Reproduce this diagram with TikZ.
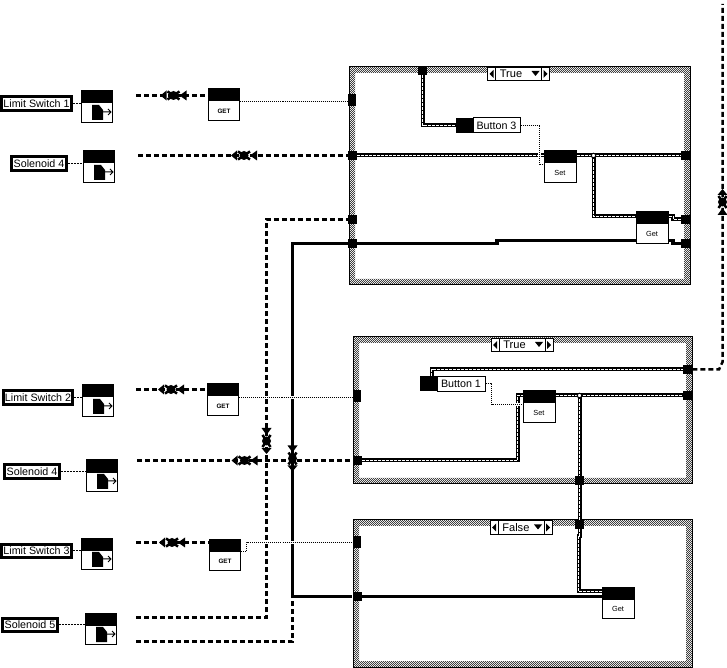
\documentclass[tikz,border=0pt]{standalone}
\usepackage{fontspec}
\setsansfont{Liberation Sans}
\usetikzlibrary{patterns}
\definecolor{Ink}{HTML}{000000}
\pgfdeclarepatternformonly{checkpx}{\pgfpoint{0cm}{0cm}}{\pgfpoint{0.04cm}{0.04cm}}{\pgfpoint{0.04cm}{0.04cm}}{
  \pgfpathrectangle{\pgfpointorigin}{\pgfpoint{0.02cm}{0.02cm}}
  \pgfpathrectangle{\pgfpoint{0.02cm}{0.02cm}}{\pgfpoint{0.02cm}{0.02cm}}
  \pgfusepath{fill}
}
\tikzset{
  caseedge/.style={even odd rule,pattern=checkpx,pattern color=Ink!75},
  caseline/.style={draw=Ink,line width=0.02cm},
  vihead/.style={rectangle,fill=Ink,draw=Ink,line width=0.02cm,minimum width=0.64cm,minimum height=0.24cm,inner sep=0pt},
  vibody/.style={rectangle,fill=white,draw=Ink,line width=0.02cm,minimum width=0.64cm,minimum height=0.40cm,inner sep=0pt},
  viget/.style={vibody,font=\sffamily\bfseries\fontsize{3.6pt}{4pt}\selectfont},
  viset/.style={vibody,font=\sffamily\fontsize{4.2pt}{5pt}\selectfont},
  namebox/.style={rectangle,fill=white,draw=Ink,line width=0.06cm,minimum height=0.28cm,inner sep=0pt,font=\sffamily\fontsize{6.1pt}{7pt}\selectfont},
  buttonbox/.style={rectangle,fill=white,draw=Ink,line width=0.02cm,minimum height=0.30cm,inner sep=0pt,font=\sffamily\fontsize{6.1pt}{7pt}\selectfont},
  buttoncap/.style={rectangle,fill=Ink,minimum width=0.34cm,minimum height=0.30cm,inner sep=0pt},
  tunnel/.style={rectangle,fill=Ink,minimum width=0.18cm,minimum height=0.18cm,inner sep=0pt},
  tunneltall/.style={rectangle,fill=Ink,minimum width=0.16cm,minimum height=0.24cm,inner sep=0pt},
  joint/.style={circle,fill=white,draw=Ink,line width=0.02cm,minimum size=0.09cm,inner sep=0pt},
  dashwire/.style={Ink,line width=0.05cm,dash pattern=on 0.10cm off 0.06cm},
  solidwire/.style={Ink,line width=0.07cm},
  stringwire/.style={Ink,line width=0.08cm,postaction={draw=white,line width=0.02cm,dash pattern=on 0.06cm off 0.02cm}},
  dotwire/.style={Ink,line width=0.02cm,dash pattern=on 0.02cm off 0.02cm,preaction={draw=white,solid,line width=0.06cm}},
  thinwire/.style={Ink,line width=0.02cm,dash pattern=on 0.04cm off 0.02cm},
  filegly/.pic={
    \fill[Ink] (-5,-8) -- (2,-8) -- (6,-3) -- (6,7) -- (-5,7) -- cycle;
    \draw[Ink,line width=0.02cm] (6,-1) -- (14,-1) (11,-4) -- (14,-1) -- (11,2);
  },
  wirecut/.pic={
    \fill[Ink] (-13,0) -- (-7,-5) -- (-7,5) -- cycle;
    \fill[Ink] (6,0) -- (13,-5) -- (13,5) -- cycle;
    \fill[Ink] (0,0) circle (4.5);
    \draw[Ink,line width=0.05cm] (-6,-4) -- (6,4) (-6,4) -- (6,-4);
  },
  casesel/.pic={
    \node[rectangle,fill=white,draw=Ink,line width=0.02cm,minimum width=1.24cm,minimum height=0.27cm,inner sep=0pt] (box) at (0,0) {};
    \draw[Ink,line width=0.02cm] (-23,-7) -- (-23,7) (23,-7) -- (23,7);
    \fill[Ink] (-29,0) -- (-25,-4) -- (-25,4) -- cycle;
    \fill[Ink] (29,0) -- (25,-4) -- (25,4) -- cycle;
    \fill[Ink] (13,-3) -- (21,-3) -- (17,2) -- cycle;
    \node[anchor=west,inner sep=0pt,font=\sffamily\fontsize{6.3pt}{7pt}\selectfont] (txt) at (-19,0) {#1};
  },
}
\begin{document}
\begin{tikzpicture}[x=0.02cm,y=-0.02cm]
\useasboundingbox (0,0) rectangle (727,668);
\fill[white] (0,0) rectangle (727,668);
\path[caseedge] (349,67) rectangle (690,285) (355,73) rectangle (684,279);
\path[caseedge] (353,337) rectangle (692,484) (359,343) rectangle (686,478);
\path[caseedge] (353,520) rectangle (692,667) (359,526) rectangle (686,661);
\draw[caseline] (349,67) rectangle (690,285);
\draw[caseline] (353,337) rectangle (692,484);
\draw[caseline] (353,520) rectangle (692,667);
\pic (selA) at (518.5,74) {casesel=True};
\pic (selB) at (522,345) {casesel=True};
\pic (selC) at (521,527.5) {casesel=False};
\node[tunneltall] (tunA) at (352,100) {};
\node[tunnel] (tunB) at (352.5,155.5) {};
\node[tunnel] (tunC) at (352.5,219.5) {};
\node[tunnel] (tunD) at (352.5,243.5) {};
\node[tunnel] (tunE) at (422.5,70.5) {};
\node[tunnel] (tunF) at (685.5,155.5) {};
\node[tunnel] (tunG) at (685.5,219.5) {};
\node[tunnel] (tunH) at (685.5,243.5) {};
\node[tunneltall] (tunI) at (357,396) {};
\node[tunnel] (tunJ) at (357.5,460.5) {};
\node[tunnel] (tunK) at (687.5,369.5) {};
\node[tunnel] (tunL) at (687.5,395.5) {};
\node[tunnel] (tunM) at (579.5,480.5) {};
\node[tunnel] (tunN) at (579.5,524.5) {};
\node[tunneltall] (tunO) at (357,542) {};
\node[tunnel] (tunP) at (357,596.5) {};
\node[vihead] (iconAtop) at (97,97) {};
\node[vibody] (iconA) at (97,113) {};
\node[vihead] (iconBtop) at (99,157) {};
\node[vibody] (iconB) at (99,173) {};
\node[vihead] (iconCtop) at (98,391) {};
\node[vibody] (iconC) at (98,407) {};
\node[vihead] (iconDtop) at (102,466) {};
\node[vibody] (iconD) at (102,482) {};
\node[vihead] (iconEtop) at (97,544) {};
\node[vibody] (iconE) at (97,560) {};
\node[vihead] (iconFtop) at (101,619) {};
\node[vibody] (iconF) at (101,635) {};
\pic (glyA) at (iconA) {filegly};
\pic (glyB) at (iconB) {filegly};
\pic (glyC) at (iconC) {filegly};
\pic (glyD) at (iconD) {filegly};
\pic (glyE) at (iconE) {filegly};
\pic (glyF) at (iconF) {filegly};
\node[namebox,minimum width=1.40cm] (nameA) at (36.5,103.5) {Limit Switch 1};
\node[namebox,minimum width=1.10cm] (nameB) at (39,163.5) {Solenoid 4};
\node[namebox,minimum width=1.40cm] (nameC) at (38,398) {Limit Switch 2};
\node[namebox,minimum width=1.10cm] (nameD) at (32,472) {Solenoid 4};
\node[namebox,minimum width=1.40cm] (nameE) at (36.5,551) {Limit Switch 3};
\node[namebox,minimum width=1.10cm] (nameF) at (30,625) {Solenoid 5};
\node[vihead] (getAtop) at (224,95) {};
\node[viget] (getA) at (224,111) {GET};
\node[vihead] (getBtop) at (223,390) {};
\node[viget] (getB) at (223,406) {GET};
\node[vihead] (getCtop) at (225,545) {};
\node[viget] (getC) at (225,561) {GET};
\node[vihead] (setAtop) at (560,157) {};
\node[viset] (setA) at (560,173) {Set};
\node[vihead] (gotAtop) at (652,218) {};
\node[viset] (gotA) at (652,234) {Get};
\node[vihead] (setBtop) at (539,397) {};
\node[viset] (setB) at (539,413) {Set};
\node[vihead] (gotBtop) at (618,593) {};
\node[viset] (gotB) at (618,609) {Get};
\node[buttoncap] (capA) at (464.5,125.5) {};
\node[buttonbox,minimum width=0.94cm] (btnA) at (496.5,125.5) {Button 3};
\node[buttoncap] (capB) at (428.5,384) {};
\node[buttonbox,minimum width=0.96cm] (btnB) at (461,384) {Button 1};
\coordinate (startA) at (136,95.5);
\coordinate (startB) at (138,155.5);
\coordinate (startC) at (136,389.5);
\coordinate (startD) at (137,460.5);
\coordinate (startE) at (136,542.5);
\coordinate (startF) at (136,617.5);
\coordinate (startG) at (136,641.5);
\coordinate (topEnd) at (722.5,4);
\draw[thinwire] (nameA.east) -- (iconA.west |- nameA.east);
\draw[thinwire] (nameB.east) -- (iconB.west |- nameB.east);
\draw[thinwire] (nameC.east) -- (iconC.west |- nameC.east);
\draw[thinwire] (nameD.east) -- (iconD.west |- nameD.east);
\draw[thinwire] (nameE.east) -- (iconE.west |- nameE.east);
\draw[thinwire] (nameF.east) -- (iconF.west |- nameF.east);
\draw[dashwire] (startA) -- (getAtop.west |- startA);
\draw[dashwire] (startB) -- (tunB.west);
\draw[dashwire] (startC) -- (getBtop.west |- startC);
\draw[dashwire] (startD) -- (tunJ.west);
\draw[dashwire] (startE) -- (getCtop.west |- startE);
\draw[dashwire] (startF) -- (266.5,617.5) -- (266.5,219.5) -- (tunC.west);
\draw[dashwire] (startG) -- (292.5,641.5) -- (292.5,597);
\draw[dashwire] (tunK.east) -- (719,369.5) -- (722.5,362) -- (topEnd);
\draw[solidwire] (tunD.west) -- (292.5,243.5) -- (292.5,596.5) -- (tunP.west);
\draw[solidwire] (tunD.east) -- (497,243.5) -- (497,240.5) -- (gotA.west |- 0,240.5);
\draw[solidwire] (gotA.east |- 0,240.5) -- (673,240.5) -- (673,243.5) -- (tunH.west);
\draw[solidwire] (tunP.east) -- (gotB.west |- tunP.east);
\draw[stringwire] (tunE.south) -- (422.5,125.5) -- (capA.west);
\draw[stringwire] (tunB.east) -- (setAtop.west |- tunB.east);
\draw[stringwire] (setAtop.east |- tunF.west) -- (tunF.west);
\draw[stringwire] (593.5,155.5) -- (593.5,216.5) -- (gotAtop.west |- 0,216.5);
\draw[stringwire] (gotAtop.east |- 0,216.5) -- (673,216.5) -- (673,219.5) -- (tunG.west);
\draw[stringwire] (capB.north -| 431.5,0) -- (431.5,369.5) -- (tunK.west);
\draw[stringwire] (tunJ.east) -- (517.5,460.5) -- (517.5,395.5) -- (setBtop.west |- 0,395.5);
\draw[stringwire] (setBtop.east |- 0,395.5) -- (tunL.west);
\draw[stringwire] (579.5,395.5) -- (tunM.north);
\draw[stringwire] (tunM.south) -- (tunN.north);
\draw[stringwire] (tunN.south) -- (579.5,536.5) -- (578.5,536.5) -- (578.5,591.5) -- (gotBtop.west |- 0,591.5);
\node[joint] (jctA) at (593.5,155.5) {};
\node[joint] (jctB) at (579.5,395.5) {};
\draw[dotwire] (getAtop.east |- 0,101.5) -- (tunA.west |- 0,101.5);
\draw[dotwire] (getBtop.east |- 0,397.5) -- (tunI.west |- 0,397.5);
\draw[dotwire] (getCtop.east |- 0,551.5) -- (246.5,551.5) -- (246.5,542.5) -- (tunO.west |- 0,542.5);
\draw[dotwire] (btnA.east) -- (539.5,125.5) -- (539.5,164.5) -- (setA.west |- 0,164.5);
\draw[dotwire] (btnB.east) -- (491.5,384) -- (491.5,404.5) -- (setB.west |- 0,404.5);
\pic (cutA) at (173.5,95.5) {wirecut};
\pic (cutB) at (244,155.5) {wirecut};
\pic (cutC) at (171,389.5) {wirecut};
\pic (cutD) at (244.5,460.5) {wirecut};
\pic (cutE) at (172,542.5) {wirecut};
\pic[rotate=90] (cutF) at (266.5,441) {wirecut};
\pic[rotate=90] (cutG) at (292.5,458.5) {wirecut};
\pic[rotate=-90] (cutH) at (722.5,202) {wirecut};
\end{tikzpicture}
\end{document}
